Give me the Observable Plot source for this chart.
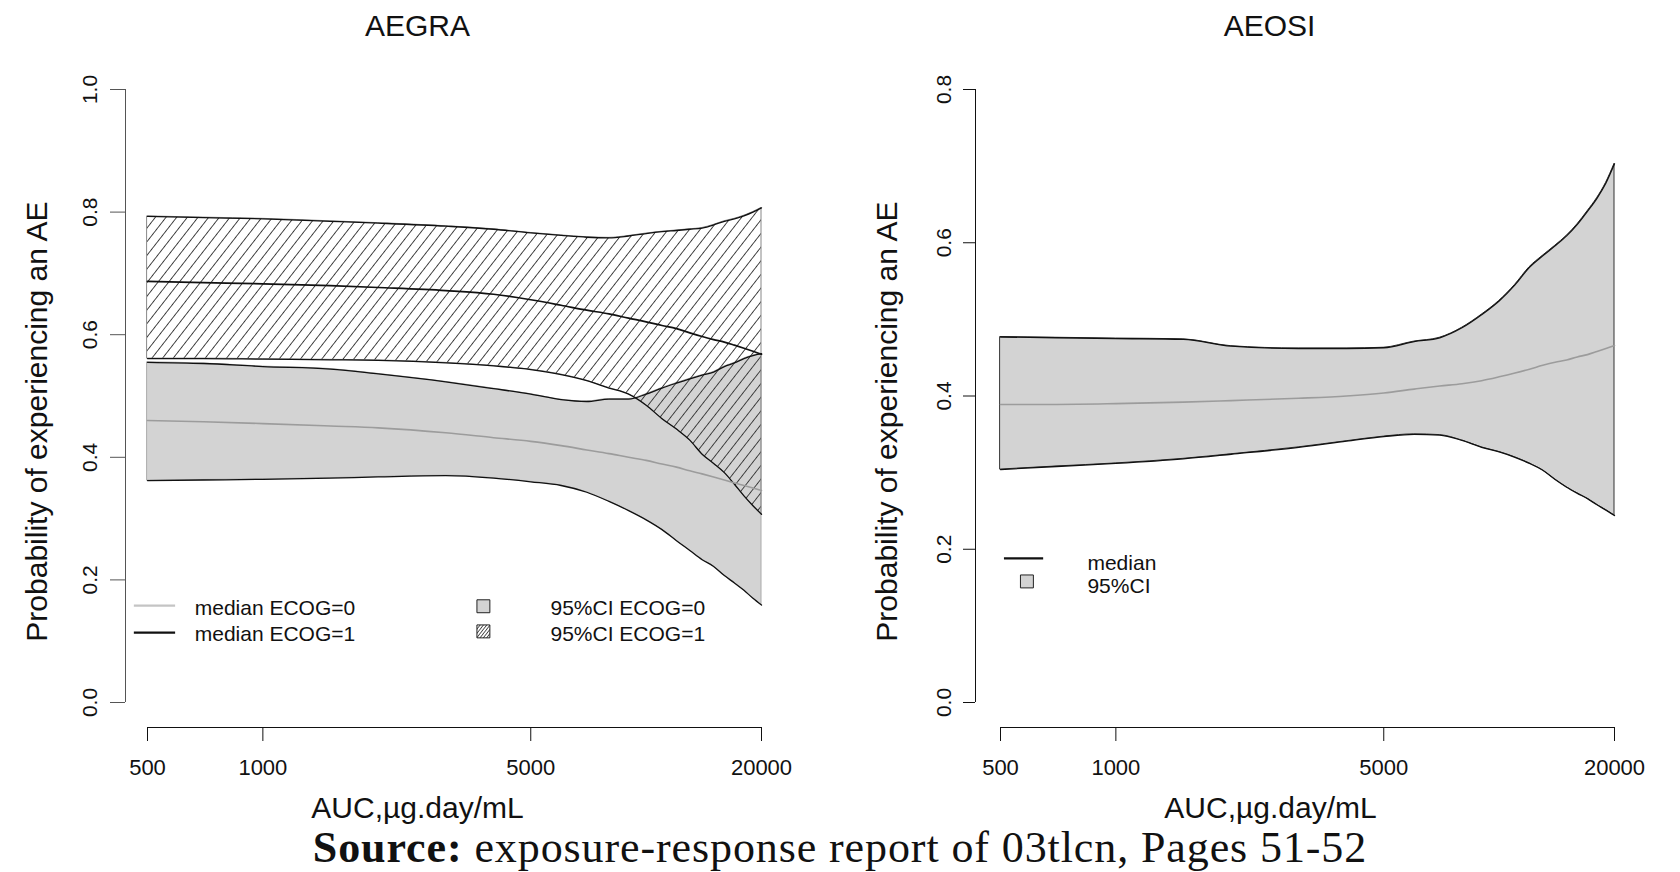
<!DOCTYPE html>
<html>
<head>
<meta charset="utf-8">
<script src="https://cdn.jsdelivr.net/npm/d3@7"></script>
<script src="https://cdn.jsdelivr.net/npm/@observablehq/plot@0.6"></script>
<style>
  html, body { margin: 0; padding: 0; background: #fff; }
  #wrap { position: relative; width: 1680px; height: 872px; overflow: hidden; background: #fff; }
  #charts { display: flex; flex-direction: row; }
  #cap {
    position: absolute; left: 0; top: 826px; width: 1680px; text-align: center;
    font-family: "Liberation Serif", "Times New Roman", serif; font-size: 44px; line-height: 44px;
    letter-spacing: 0.9px; white-space: nowrap; color: #111;
  }
</style>
</head>
<body>
<div id="wrap">
  <div id="charts"></div>
  <div id="cap"><b>Source:</b> exposure-response report of 03tlcn, Pages 51-52</div>
</div>
<script>
// ---------- data ----------
const auc = [500, 700, 1000, 1500, 2000, 3000, 4000, 5000, 6000, 7000, 8000, 9000, 10000,
             11000, 12000, 13000, 14000, 15000, 16000, 17000, 18000, 19000, 20000];

// AEGRA, ECOG=0 (grey band)
const aegraLo0  = [0.362, 0.363, 0.364, 0.366, 0.368, 0.370, 0.366, 0.360, 0.354, 0.343, 0.328, 0.313, 0.298,
                   0.282, 0.264, 0.248, 0.233, 0.222, 0.207, 0.195, 0.183, 0.170, 0.159];
const aegraMed0 = [0.460, 0.458, 0.455, 0.451, 0.448, 0.440, 0.432, 0.426, 0.419, 0.412, 0.406, 0.400, 0.395,
                   0.389, 0.384, 0.378, 0.373, 0.368, 0.363, 0.358, 0.354, 0.350, 0.346];
const aegraHi0  = [0.555, 0.553, 0.548, 0.544, 0.536, 0.523, 0.512, 0.503, 0.494, 0.491, 0.495, 0.495, 0.503,
                   0.513, 0.521, 0.528, 0.534, 0.539, 0.548, 0.554, 0.561, 0.566, 0.569];
// AEGRA, ECOG=1 (hatched band)
const aegraLo1  = [0.561, 0.561, 0.560, 0.559, 0.558, 0.554, 0.549, 0.543, 0.535, 0.525, 0.513, 0.503, 0.485,
                   0.463, 0.446, 0.428, 0.405, 0.390, 0.375, 0.356, 0.337, 0.321, 0.307];
const aegraMed1 = [0.687, 0.685, 0.683, 0.680, 0.677, 0.672, 0.666, 0.657, 0.648, 0.640, 0.634, 0.627, 0.621,
                   0.615, 0.610, 0.603, 0.597, 0.592, 0.588, 0.583, 0.578, 0.573, 0.568];
const aegraHi1  = [0.793, 0.791, 0.789, 0.785, 0.782, 0.777, 0.772, 0.766, 0.762, 0.759, 0.758, 0.761, 0.765,
                   0.768, 0.770, 0.772, 0.774, 0.779, 0.785, 0.789, 0.794, 0.800, 0.807];

// AEOSI
const aeosiLo  = [0.304, 0.308, 0.312, 0.318, 0.324, 0.333, 0.341, 0.347, 0.350, 0.349, 0.342, 0.333, 0.327,
                  0.320, 0.312, 0.303, 0.291, 0.281, 0.273, 0.266, 0.258, 0.251, 0.244];
const aeosiMed = [0.389, 0.389, 0.390, 0.392, 0.394, 0.397, 0.400, 0.404, 0.409, 0.413, 0.416, 0.420, 0.425,
                  0.430, 0.435, 0.440, 0.444, 0.447, 0.451, 0.454, 0.458, 0.462, 0.466];
const aeosiHi  = [0.477, 0.476, 0.475, 0.474, 0.465, 0.462, 0.462, 0.463, 0.471, 0.476, 0.489, 0.506, 0.524,
                  0.545, 0.568, 0.583, 0.596, 0.609, 0.624, 0.641, 0.658, 0.678, 0.703];

const xTicks = [500, 1000, 5000, 20000];
const yTicksA = [0, 0.2, 0.4, 0.6, 0.8, 1.0];
const yTicksB = [0, 0.2, 0.4, 0.6, 0.8];
const titles = ["AEGRA", "AEOSI"];
const xLabel = "AUC,\u00b5g.day/mL";
const yLabel = "Probability of experiencing an AE";
const legendA = [
  {label: "median ECOG=0", box: "95%CI ECOG=0"},
  {label: "median ECOG=1", box: "95%CI ECOG=1"}
];
const legendB = [{label: "median"}, {label: "95%CI"}];

// ---------- tables ----------
const aegra = auc.map((a, i) => ({auc: a, lo0: aegraLo0[i], med0: aegraMed0[i], hi0: aegraHi0[i],
                                   lo1: aegraLo1[i], med1: aegraMed1[i], hi1: aegraHi1[i]}));
const aeosi = auc.map((a, i) => ({auc: a, lo: aeosiLo[i], med: aeosiMed[i], hi: aeosiHi[i]}));

const FONT = "'Liberation Sans', Arial, Helvetica, sans-serif";
const GREY = "#d3d3d3";
const MEDGREY = "#9c9c9c";
const curve = "monotone-x";

function addPatterns(svg, prefix) {
  const defs = d3.select(svg).insert("defs", ":first-child");
  const mk = (id, sp, sw, col) => {
    const p = defs.append("pattern").attr("id", id).attr("patternUnits", "userSpaceOnUse")
      .attr("width", sp).attr("height", sp).attr("patternTransform", "rotate(38)");
    p.append("line").attr("x1", sp / 2).attr("y1", -1).attr("x2", sp / 2).attr("y2", sp + 1)
      .attr("stroke", col).attr("stroke-width", sw);
  };
  mk(prefix + "hatch", 8.4, 0.9, "#333");
  mk(prefix + "dense", 2.6, 0.9, "#444");
}

// ---------- left panel: AEGRA ----------
const left = Plot.plot({
  width: 850, height: 826,
  marginLeft: 125, marginRight: 65, marginTop: 65, marginBottom: 99,
  style: {fontFamily: FONT, fontSize: "21px", color: "#111", background: "white", overflow: "visible"},
  x: {type: "log", domain: [500, 20000], insetLeft: 22, insetRight: 24},
  y: {domain: [0, 1], insetTop: 24, insetBottom: 25},
  marks: [
    Plot.areaY(aegra, {x: "auc", y1: "lo0", y2: "hi0", fill: GREY, stroke: "#aaa", strokeWidth: 1, curve}),
    Plot.areaY(aegra, {x: "auc", y1: "lo1", y2: "hi1", fill: "url(#Ahatch)", stroke: "#888", strokeWidth: 1, curve}),
    Plot.line(aegra, {x: "auc", y: "lo0", stroke: "#111", strokeWidth: 1.3, curve}),
    Plot.line(aegra, {x: "auc", y: "hi0", stroke: "#111", strokeWidth: 1.3, curve}),
    Plot.line(aegra, {x: "auc", y: "lo1", stroke: "#111", strokeWidth: 1.3, curve}),
    Plot.line(aegra, {x: "auc", y: "hi1", stroke: "#111", strokeWidth: 1.3, curve}),
    Plot.line(aegra, {x: "auc", y: "med0", stroke: MEDGREY, strokeWidth: 1.6, curve}),
    Plot.line(aegra, {x: "auc", y: "med1", stroke: "#111", strokeWidth: 1.7, curve}),
    // R-style axes
    Plot.ruleX([500], {y1: 0, y2: 1, dx: -22, stroke: "#555"}),
    Plot.axisY({ticks: yTicksA, tickSize: 15, tickPadding: 14, tickRotate: -90, tickFormat: d3.format(".1f"),
                fontSize: 21, stroke: "#555", fill: "#111", label: null}),
    Plot.ruleY([0], {x1: 500, x2: 20000, dy: 25, stroke: "#111"}),
    Plot.axisX({ticks: xTicks, tickSize: 14, tickPadding: 18, tickFormat: d => String(d),
                fontSize: 22, stroke: "#111", fill: "#111", label: null}),
    // titles
    Plot.text([titles[0]], {frameAnchor: "top", lineAnchor: "bottom", dx: -38, dy: -30, fontSize: 30, fill: "#111"}),
    Plot.text([xLabel], {frameAnchor: "bottom", lineAnchor: "bottom", dx: -38, dy: 90, fontSize: 30, fill: "#111"}),
    Plot.text([yLabel], {frameAnchor: "left", rotate: -90, lineAnchor: "bottom", textAnchor: "middle",
                         dx: -79, dy: 25, fontSize: 30, fill: "#111"}),
    // legend (placed in data coordinates, like R's legend())
    Plot.ruleY([0.158], {x1: 462, x2: 592, stroke: "#c4c4c4", strokeWidth: 2.2}),
    Plot.ruleY([0.114], {x1: 462, x2: 592, stroke: "#111", strokeWidth: 2.2}),
    Plot.text(legendA, {x: 664, y: [0.1545, 0.1105], text: "label", textAnchor: "start", fontSize: 21, fill: "#111"}),
    Plot.dot(legendA, {x: 3762, y: [0.157, 0.116], symbol: "square", r: 7.3,
                       fill: [GREY, "url(#Adense)"], stroke: "#222", strokeWidth: 1}),
    Plot.text(legendA, {x: 5628, y: [0.1545, 0.1105], text: "box", textAnchor: "start", fontSize: 21, fill: "#111"})
  ]
});
addPatterns(left, "A");

// ---------- right panel: AEOSI ----------
const right = Plot.plot({
  width: 830, height: 826,
  marginLeft: 125, marginRight: 42, marginTop: 65, marginBottom: 99,
  style: {fontFamily: FONT, fontSize: "21px", color: "#111", background: "white", overflow: "visible"},
  x: {type: "log", domain: [500, 20000], insetLeft: 25, insetRight: 24},
  y: {domain: [0, 0.8], insetTop: 24, insetBottom: 25},
  marks: [
    Plot.areaY(aeosi, {x: "auc", y1: "lo", y2: "hi", fill: GREY, stroke: "#333", strokeWidth: 1, curve}),
    Plot.line(aeosi, {x: "auc", y: "lo", stroke: "#111", strokeWidth: 1.3, curve}),
    Plot.line(aeosi, {x: "auc", y: "hi", stroke: "#111", strokeWidth: 1.3, curve}),
    Plot.line(aeosi, {x: "auc", y: "med", stroke: MEDGREY, strokeWidth: 1.6, curve}),
    Plot.ruleX([500], {y1: 0, y2: 0.8, dx: -25, stroke: "#111"}),
    Plot.axisY({ticks: yTicksB, tickSize: 12, tickPadding: 13, tickRotate: -90, tickFormat: d3.format(".1f"),
                fontSize: 21, stroke: "#111", fill: "#111", label: null}),
    Plot.ruleY([0], {x1: 500, x2: 20000, dy: 25, stroke: "#111"}),
    Plot.axisX({ticks: xTicks, tickSize: 14, tickPadding: 18, tickFormat: d => String(d),
                fontSize: 22, stroke: "#111", fill: "#111", label: null}),
    Plot.text([titles[1]], {frameAnchor: "top", lineAnchor: "bottom", dx: -37.5, dy: -30, fontSize: 30, fill: "#111"}),
    Plot.text([xLabel], {frameAnchor: "bottom", lineAnchor: "bottom", dx: -36.5, dy: 90, fontSize: 30, fill: "#111"}),
    Plot.text([yLabel], {frameAnchor: "left", rotate: -90, lineAnchor: "bottom", textAnchor: "middle",
                         dx: -79, dy: 25, fontSize: 30, fill: "#111"}),
    // legend
    Plot.ruleY([0.188], {x1: 512, x2: 648, stroke: "#111", strokeWidth: 2.2}),
    Plot.dot([legendB[1]], {x: 586, y: 0.158, symbol: "square", r: 7.3, fill: GREY, stroke: "#222", strokeWidth: 1}),
    Plot.text(legendB, {x: 843, y: [0.1823, 0.1523], text: "label", textAnchor: "start", fontSize: 21, fill: "#111"})
  ]
});
addPatterns(right, "B");

const host = document.getElementById("charts");
host.appendChild(left);
host.appendChild(right);
</script>
</body>
</html>
